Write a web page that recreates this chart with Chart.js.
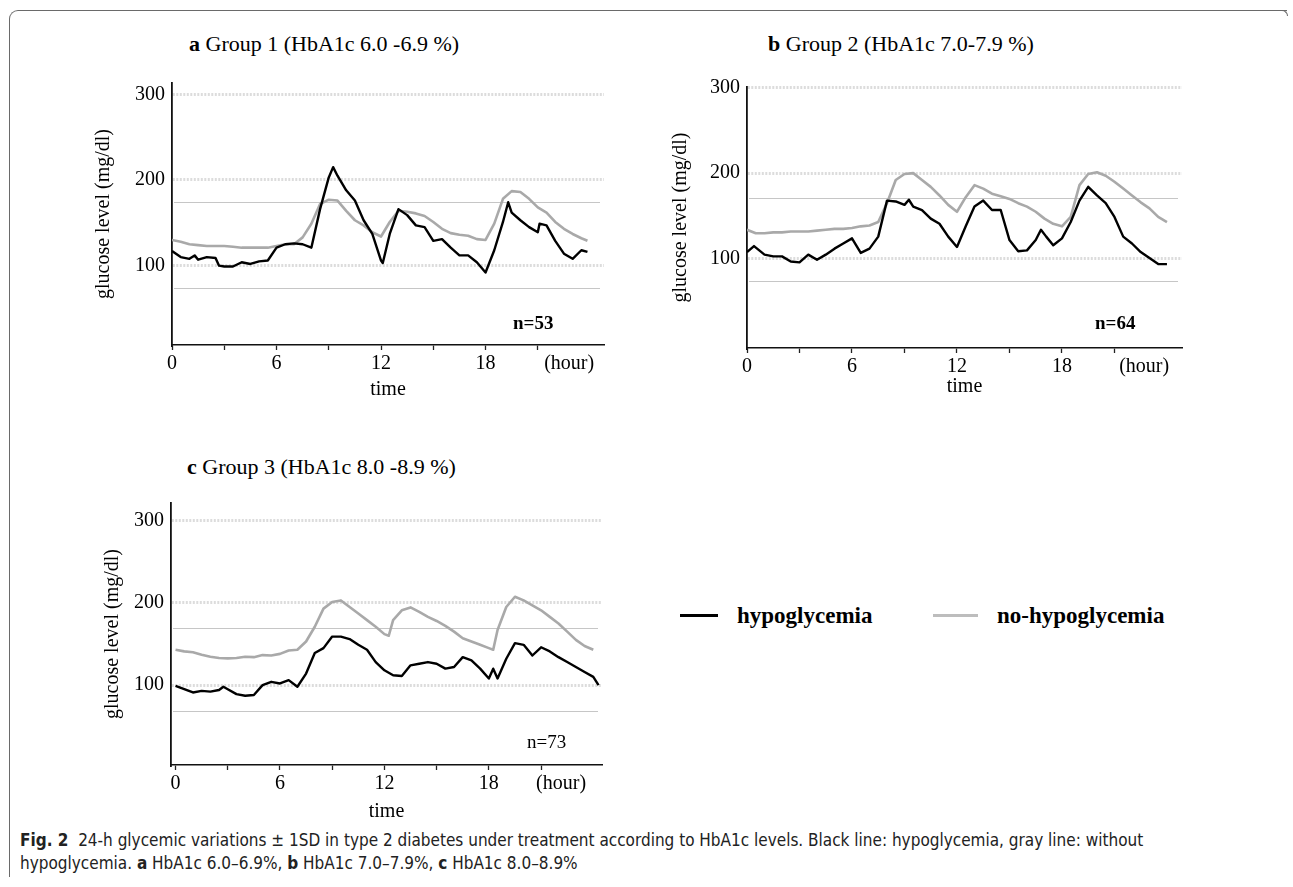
<!DOCTYPE html>
<html><head><meta charset="utf-8">
<script src="https://cdn.jsdelivr.net/npm/chart.js@4.4.0/dist/chart.umd.min.js"></script>
<style>
html,body{margin:0;padding:0;background:#fff;}
#page{position:relative;width:1293px;height:887px;overflow:hidden;background:#fff;}
.frame{position:absolute;left:9px;top:10px;width:1278px;height:867px;border-top:1.5px solid #6a6a6a;border-left:1.5px solid #6a6a6a;border-top-left-radius:9px;box-sizing:border-box;}
.hook{position:absolute;left:1280px;top:10px;width:8px;height:6px;border-top:1.5px solid #6a6a6a;border-right:1.5px solid #6a6a6a;border-top-right-radius:7px;box-sizing:border-box;}
.serif{font-family:"Liberation Serif","Times New Roman",serif;color:#000;position:absolute;white-space:nowrap;line-height:1;}
.ptitle{font-size:22px;}
.nlab{font-size:19px;}
.leg{font-size:23px;font-weight:bold;}
.legline{position:absolute;height:3px;}
canvas{position:absolute;}
.cap{position:absolute;left:20px;font-family:"DejaVu Sans Condensed","Liberation Sans Narrow","Liberation Sans",sans-serif;font-size:17px;color:#222;white-space:nowrap;line-height:1;}
</style></head>
<body><div id="page">
<div class="frame"></div><div class="hook"></div>

<div class="serif ptitle" style="left:189px;top:33px;"><b>a</b> Group 1 (HbA1c 6.0 -6.9 %)</div>
<div class="serif ptitle" style="left:768px;top:33px;"><b>b</b> Group 2 (HbA1c 7.0-7.9 %)</div>
<div class="serif ptitle" style="left:187px;top:456px;"><b>c</b> Group 3 (HbA1c 8.0 -8.9 %)</div>

<canvas id="ca" width="559" height="347" style="left:85px;top:63px;"></canvas>
<canvas id="cb" width="557" height="346" style="left:665px;top:67px;"></canvas>
<canvas id="cc" width="557" height="347" style="left:85px;top:483px;"></canvas>

<div class="serif nlab" style="left:513px;top:313px;font-weight:bold;">n=53</div>
<div class="serif nlab" style="left:1095px;top:313px;font-weight:bold;">n=64</div>
<div class="serif nlab" style="left:527px;top:732px;">n=73</div>

<div class="legline" style="left:680px;top:614px;width:38px;background:#000;"></div>
<div class="serif leg" style="left:737px;top:604px;">hypoglycemia</div>
<div class="legline" style="left:933px;top:614px;width:45px;background:#bdbdbd;"></div>
<div class="serif leg" style="left:997px;top:604px;">no-hypoglycemia</div>

<div class="cap" style="top:832px;"><b>Fig. 2</b>&nbsp; 24-h glycemic variations ± 1SD in type 2 diabetes under treatment according to HbA1c levels. Black line: hypoglycemia, gray line: without</div>
<div class="cap" style="top:855px;">hypoglycemia. <b>a</b> HbA1c 6.0–6.9%, <b>b</b> HbA1c 7.0–7.9%, <b>c</b> HbA1c 8.0–8.9%</div>
</div>
<script>
// ---- tick labels ----
const xTickHours = [0, 3, 6, 9, 12, 15, 18, 21];
const xLabelHours = [0, 6, 12, 18];
const yTickValues = [100, 200, 300];
const hourLabelPos = [22.8, 22.7, 22.15];

// ---- Panel a: Group 1 (HbA1c 6.0-6.9%) ----
const hoursHypoA = [0,0.5,1,1.3,1.5,2,2.5,2.7,3,3.5,4,4.5,5,5.5,6,6.5,7,7.5,8,8.5,9,9.25,9.5,10,10.5,11,11.5,12,12.1,12.5,13,13.5,14,14.5,15,15.5,16,16.5,17,17.5,18,18.5,19,19.3,19.5,20,20.5,21,21.1,21.5,22,22.5,23,23.5,23.85];
const hypoA = [117,110,108,112,107,110,109,100,99,99,104,102,105,106,121,125,126,125,121,166,203,215,205,188,176,153,137,106,103,137,166,159,147,145,129,131,121,112,112,104,92,118,151,174,162,153,145,139,149,147,129,114,108,118,116];
const hoursNoHypoA = [0,0.5,1,1.5,2,2.5,3,3.5,4,4.5,5,5.5,6,6.5,7,7.5,8,8.5,9,9.5,10,10.5,11,11.5,12,12.5,13,13.5,14,14.5,15,15.5,16,16.5,17,17.5,18,18.5,19,19.5,20,20.5,21,21.5,22,22.5,23,23.5,23.85];
const noHypoA = [130,128,125,124,123,123,123,122,121,121,121,121,123,125,125,133,149,172,177,176,164,153,147,139,134,151,164,163,161,158,151,143,138,136,135,131,130,149,178,187,186,178,168,162,151,143,137,132,129];
const sdLinesA = [174, 74];

// ---- Panel b: Group 2 (HbA1c 7.0-7.9%) ----
const hoursHypoB = [0,0.4,0.7,1,1.5,2,2.5,3,3.5,4,4.5,5,5.5,6,6.5,7,7.5,8,8.5,9,9.25,9.5,10,10.5,11,11.5,12,12.5,13,13.5,14,14.5,15,15.5,16,16.5,16.8,17.1,17.5,18,18.5,19,19.5,20,20.5,21,21.5,22,22.5,23,23.5,24];
const hypoB = [108,115,110,105,103,103,97,96,105,99,105,112,118,124,107,112,126,168,167,163,169,161,157,147,141,126,114,138,161,168,157,157,122,109,110,122,134,126,116,124,143,168,184,174,165,149,126,118,108,101,94,94];
const hoursNoHypoB = [0,0.5,1,1.5,2,2.5,3,3.5,4,4.5,5,5.5,6,6.5,7,7.5,8,8.5,9,9.5,10,10.5,11,11.5,12,12.5,13,13.5,14,14.5,15,15.5,16,16.5,17,17.5,18,18.5,19,19.5,20,20.5,21,21.5,22,22.5,23,23.5,24];
const noHypoB = [134,130,130,131,131,132,132,132,133,134,135,135,136,138,139,143,165,192,199,200,192,184,174,163,155,172,186,182,176,173,170,165,161,155,147,141,138,149,186,199,201,197,190,182,174,166,159,149,143];
const sdLinesB = [171, 74];

// ---- Panel c: Group 3 (HbA1c 8.0-8.9%) ----
const hoursHypoC = [0,0.5,1,1.5,2,2.5,2.75,3,3.5,4,4.5,5,5.5,6,6.5,7,7.5,8,8.5,9,9.5,10,10.5,11,11.5,12,12.5,13,13.5,14,14.5,15,15.5,16,16.5,17,17.5,18,18.25,18.5,19,19.5,20,20.5,21,21.5,22,22.5,23,23.5,24,24.3];
const hypoC = [99,95,91,93,92,94,98,95,89,87,88,100,104,102,106,98,114,139,145,159,159,156,149,143,128,118,112,111,124,126,128,126,120,122,134,130,120,108,120,108,132,151,149,136,146,141,134,128,122,116,110,100];
const hoursNoHypoC = [0,0.5,1,1.5,2,2.5,3,3.5,4,4.5,5,5.5,6,6.5,7,7.5,8,8.5,9,9.5,10,10.5,11,11.5,12,12.25,12.5,13,13.5,14,14.5,15,15.5,16,16.5,17,17.5,18,18.25,18.5,19,19.5,20,20.5,21,21.5,22,22.5,23,23.5,24];
const noHypoC = [143,141,140,137,134.5,133,132.5,133,134.5,134,136.5,136,138,142,143,153,171,193,201,203,195,187,179,171,162,160,179,191,194.5,189,183,178,172,165,157,153,149,145,143,167,195,207.5,203,197,191,183,175,165,155,147.5,143];
const sdLinesC = [169, 69];

// ---- drawing ----
const sdPlugin = {
  id: 'sdLines',
  beforeDatasetsDraw(chart, args, opts) {
    const {ctx, chartArea, scales} = chart;
    const y = scales.y;
    ctx.save();
    ctx.strokeStyle = '#c6c6c6';
    ctx.lineWidth = 1.2;
    (opts.values || []).forEach(v => {
      const py = Math.round(y.getPixelForValue(v)) + 0.5;
      ctx.beginPath();
      ctx.moveTo(chartArea.left + 2, py);
      ctx.lineTo(chartArea.right - 4, py);
      ctx.stroke();
    });
    ctx.restore();
  }
};

const serif = 'Liberation Serif';
function pts(hours, vals) { return hours.map((h, i) => ({x: h, y: vals[i]})); }

function makeChart(id, cfg) {
  const hp = cfg.hourPos;
  return new Chart(document.getElementById(id), {
    type: 'line',
    data: {
      datasets: [
        {label: 'hypoglycemia', data: pts(cfg.hHypo, cfg.hypo), borderColor: '#000', borderWidth: 2.4},
        {label: 'no-hypoglycemia', data: pts(cfg.hNo, cfg.no), borderColor: '#a9a9a9', borderWidth: 2.6}
      ]
    },
    options: {
      responsive: false, animation: false, events: [],
      layout: {padding: {top: 20, right: 40, bottom: 0, left: 0}},
      elements: {point: {radius: 0}, line: {tension: 0, borderJoinStyle: 'round', fill: false}},
      plugins: {legend: {display: false}, tooltip: {enabled: false}, sdLines: {values: cfg.sd}},
      scales: {
        x: {
          type: 'linear', min: cfg.xmin, max: cfg.xmax,
          afterBuildTicks: s => { s.ticks = xTickHours.concat([hp]).map(v => ({value: v})); },
          afterFit: s => { s.height = 65; },
          ticks: {autoSkip: false, maxRotation: 0, padding: 2, color: '#000', font: {family: serif, size: 20},
            callback: v => v === hp ? '(hour)' : (xLabelHours.includes(v) ? String(v) : '')},
          grid: {drawOnChartArea: false, drawTicks: true, tickLength: 5, tickWidth: 1.3,
            tickColor: c => (c.tick && c.tick.value === hp) ? 'rgba(0,0,0,0)' : '#222'},
          border: {display: true, color: '#111', width: 1.6},
          title: {display: true, text: 'time', color: '#000', font: {family: serif, size: 20}, padding: {top: 0, bottom: cfg.xtPad}}
        },
        y: {
          min: cfg.ymin, max: cfg.ymax,
          afterBuildTicks: s => { s.ticks = yTickValues.map(v => ({value: v})); },
          afterFit: s => { s.width = cfg.yW; },
          ticks: {padding: 7, color: '#000', font: {family: serif, size: 20}},
          grid: {drawTicks: false, color: '#dcdcdc', lineWidth: 3},
          border: {display: true, color: '#111', width: 1.8, dash: [2, 1.5]},
          title: {display: true, text: 'glucose level (mg/dl)', color: '#000', font: {family: serif, size: 20}, padding: {top: cfg.ytPad, bottom: 0}}
        }
      }
    },
    plugins: [sdPlugin]
  });
}

makeChart('ca', {hHypo: hoursHypoA, hypo: hypoA, hNo: hoursNoHypoA, no: noHypoA, sd: sdLinesA,
  xmin: 0, xmax: 24.8, ymin: 7.4, ymax: 313.2, yW: 87, ytPad: 7, xtPad: 8, hourPos: hourLabelPos[0]});
makeChart('cb', {hHypo: hoursHypoB, hypo: hypoB, hNo: hoursNoHypoB, no: noHypoB, sd: sdLinesB,
  xmin: 0, xmax: 24.86, ymin: -3.8, ymax: 300.4, yW: 82, ytPad: 4, xtPad: 14, hourPos: hourLabelPos[1]});
makeChart('cc', {hHypo: hoursHypoC, hypo: hypoC, hNo: hoursNoHypoC, no: noHypoC, sd: sdLinesC,
  xmin: -0.26, xmax: 24.5, ymin: 2.8, ymax: 321.5, yW: 86, ytPad: 16, xtPad: 6, hourPos: hourLabelPos[2]});
</script>
</body></html>
